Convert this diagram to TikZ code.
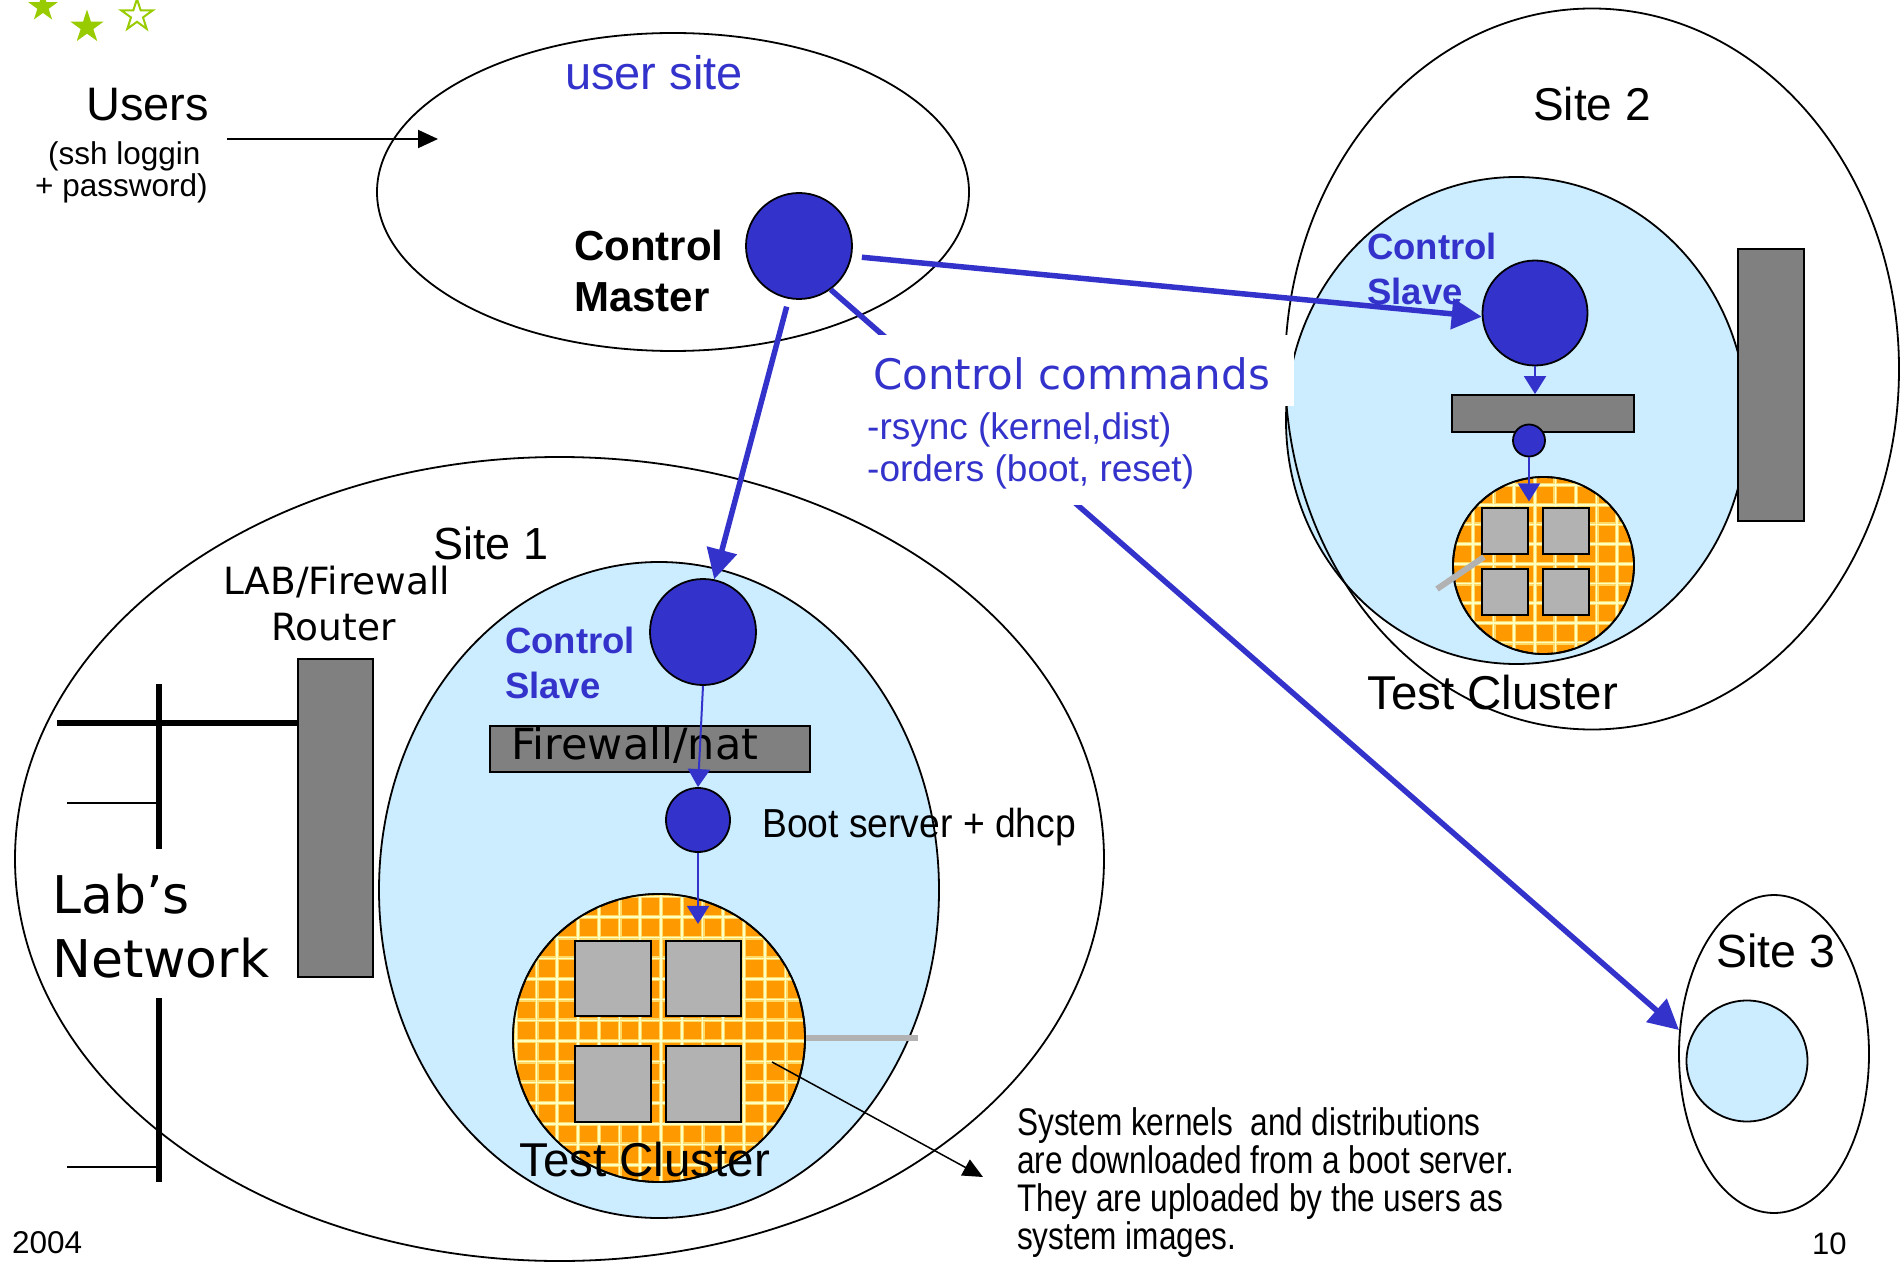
\documentclass[tikz,border=0pt]{standalone}
\usepackage{fontspec}
\setmainfont{Liberation Sans}
\newfontfamily\dvfont{DejaVu Sans}
\newfontfamily\nwfont{Liberation Sans}[FakeStretch=0.82]
\newfontfamily\bsfont{Liberation Sans}[FakeStretch=0.92]
\usetikzlibrary{shapes.geometric,arrows.meta}
\definecolor{cblue}{HTML}{3333CC}
\definecolor{lblue}{HTML}{CCECFF}
\definecolor{dgray}{HTML}{808080}
\definecolor{lgray}{HTML}{B2B2B2}
\definecolor{corange}{HTML}{FF9900}
\definecolor{cgreen}{HTML}{99CC00}
\definecolor{gridout}{HTML}{FFD966}
\definecolor{gridin}{HTML}{FFFFC0}
\newcommand\myfs[1]{\fontsize{#1pt}{#1pt}\selectfont}
\begin{document}
\begin{tikzpicture}[x=1pt,y=-1pt,
  outline/.style={draw=black, line width=1.8pt, inner sep=0pt},
  siteell/.style={outline, ellipse},
  sitefill/.style={outline, ellipse, fill=lblue},
  bluecirc/.style={outline, circle, fill=cblue},
  graybox/.style={outline, rectangle, fill=dgray},
  sqbox/.style={draw=black, line width=2pt, rectangle, fill=lgray, inner sep=0pt, minimum size=#1},
  cluster/.style={outline, ellipse, fill=corange},
  starshape/.style={star, star points=5, star point ratio=2.618, inner sep=0pt},
  txt/.style={inner sep=0pt, anchor=base west},
  bigarrow/.style={draw=cblue, line width=5.5pt, -{Triangle[length=30pt,width=30pt]}},
  smallarrow/.style={draw=cblue, line width=2pt, -{Triangle[length=18pt,width=22pt]}},
  blackarrow/.style={draw=black, line width=2pt, -{Triangle[length=20pt,width=18pt]}},
  grayline/.style={draw=lgray, line width=6pt},
  gridA/.style={draw=gridout, line width=4pt},
  gridB/.style={draw=gridin, line width=1.6pt},
  netthick/.style={line width=6.5pt},
  netthin/.style={line width=2pt},
]
\useasboundingbox (0,0) rectangle (1904,1265);
\clip (0,0) rectangle (1904,1265);

% stars
\node[starshape, minimum size=31pt, fill=cgreen] (star1) at (43,7) {};
\node[starshape, minimum size=35pt, fill=cgreen] (star2) at (87,27) {};
\node[starshape, minimum size=33pt, draw=cgreen, line width=2pt, fill=white] (star3) at (137,15.5) {};

% sites
\node[siteell, minimum width=592pt, minimum height=318pt] (usersite) at (673,192) {};
\node[siteell, minimum width=1089pt, minimum height=804pt] (site1) at (559.5,859) {};
\node[sitefill, minimum width=560pt, minimum height=656pt] (lan1) at (659,890) {};
\node[sitefill, minimum width=461pt, minimum height=487pt] (lan2) at (1516.5,420.5) {};
\node[siteell, minimum width=614pt, minimum height=721pt] (site2) at (1592,369) {};
\node[siteell, minimum width=190pt, minimum height=318pt] (site3) at (1774,1054) {};
\node[sitefill, circle, minimum size=121pt] (lan3) at (1747,1061) {};

% lab network
\node[graybox, minimum width=75pt, minimum height=318pt] (router1) at (335.5,818) {};
\coordinate (n1) at (57,723);
\draw[netthick] (n1) -- (n1 -| router1.west);
\draw[netthick] (159,684) -- (159,849);
\draw[netthick] (159,998) -- (159,1182);
\draw[netthin] (67,803) -- (159,803);
\draw[netthin] (67,1167) -- (159,1167);

\node[graybox, minimum width=66pt, minimum height=272pt] (router2) at (1771,385) {};

% test cluster 1
\node[cluster, minimum width=292pt, minimum height=288pt] (tc1) at (659,1038) {};
\begin{scope}
  \clip (659,1038) ellipse [x radius=146pt, y radius=144pt];
  \foreach \i in {-1,...,13} {\draw[gridA] (536.5+20.75*\i,880) -- (536.5+20.75*\i,1200);}
  \foreach \j in {-1,...,13} {\draw[gridA] (500,917+20.67*\j) -- (820,917+20.67*\j);}
  \foreach \i in {-1,...,13} {\draw[gridB] (536.5+20.75*\i,880) -- (536.5+20.75*\i,1200);}
  \foreach \j in {-1,...,13} {\draw[gridB] (500,917+20.67*\j) -- (820,917+20.67*\j);}
\end{scope}
\draw[line width=1.8pt] (659,1038) ellipse [x radius=146pt, y radius=144pt];
\node[sqbox=75.5pt] (sq11) at (613,978.5) {};
\node[sqbox=75.5pt] (sq12) at (703.5,978.5) {};
\node[sqbox=75.5pt] (sq13) at (613,1084) {};
\node[sqbox=75.5pt] (sq14) at (703.5,1084) {};
\draw[grayline] (tc1.east) -- ++(112,0);

% test cluster 2
\node[cluster, minimum width=181pt, minimum height=177pt] (tc2) at (1543.5,565.5) {};
\begin{scope}
  \clip (1543.5,565.5) ellipse [x radius=90.5pt, y radius=88.5pt];
  \foreach \i in {-1,...,8} {\draw[gridA] (1473+20.6*\i,460) -- (1473+20.6*\i,670);}
  \foreach \j in {-1,...,9} {\draw[gridA] (1440,485+19.7*\j) -- (1650,485+19.7*\j);}
  \foreach \i in {-1,...,8} {\draw[gridB] (1473+20.6*\i,460) -- (1473+20.6*\i,670);}
  \foreach \j in {-1,...,9} {\draw[gridB] (1440,485+19.7*\j) -- (1650,485+19.7*\j);}
\end{scope}
\draw[line width=1.8pt] (1543.5,565.5) ellipse [x radius=90.5pt, y radius=88.5pt];
\node[sqbox=46pt] (sq21) at (1505,531) {};
\node[sqbox=46pt] (sq22) at (1566,531) {};
\node[sqbox=46pt] (sq23) at (1505,591.5) {};
\node[sqbox=46pt] (sq24) at (1566,591.5) {};
\draw[grayline] (1437,589) -- (1484,557);

% bars
\node[graybox, minimum width=320pt, minimum height=46pt] (fw1) at (650,749) {};
\node[graybox, minimum width=182pt, minimum height=37pt] (fw2) at (1543,413.5) {};

% circles
\node[bluecirc, minimum size=106pt] (master) at (799,246) {};
\node[bluecirc, minimum size=106pt] (slave1) at (703,632) {};
\node[bluecirc, minimum size=64pt] (boot1) at (698,820) {};
\node[bluecirc, minimum size=105pt] (slave2) at (1535,313) {};
\node[bluecirc, minimum size=32pt] (boot2) at (1529,440.5) {};

% texts
\node[txt, font=\myfs{47}] (users) at (86,121) {Users};
\node[txt, font=\myfs{31.5}] (ssh) at (48,165) {(ssh loggin};
\node[txt, font=\myfs{31.5}] (pwd) at (35,197) {+ password)};
\node[txt, font=\myfs{47}, text=cblue] (usl) at (565,90) {user site};
\node[txt, font=\myfs{42}\bfseries] (cm1) at (574,261) {Control};
\node[txt, font=\myfs{42}\bfseries] (cm2) at (574,312) {Master};
\node[txt, font=\myfs{46}] (s2l) at (1533,121) {Site 2};
\node[txt, font=\myfs{36.5}\bfseries, text=cblue] (cs2a) at (1367,260) {Control};
\node[txt, font=\myfs{36.5}\bfseries, text=cblue] (cs2b) at (1367,305) {Slave};
\node[txt, font=\myfs{47.5}] (tc2l) at (1367,709) {Test Cluster};
\node[txt, font=\myfs{45}] (s1l) at (433,559) {Site 1};
\node[txt, font=\dvfont\myfs{37.5}] (labl) at (223,594) {LAB/Firewall};
\node[txt, font=\dvfont\myfs{37.5}] (rtl) at (271,640) {Router};
\node[txt, font=\myfs{36.5}\bfseries, text=cblue] (cs1a) at (505,653) {Control};
\node[txt, font=\myfs{36.5}\bfseries, text=cblue] (cs1b) at (505,698) {Slave};
\node[txt, font=\dvfont\myfs{43}] (fwl) at (511,759) {Firewall/nat};
\node[txt, font=\bsfont\myfs{40.5}] (bsl) at (762,837) {Boot server + dhcp};
\node[txt, font=\myfs{47.5}] (tc1l) at (519,1176) {Test Cluster};
\node[txt, font=\dvfont\myfs{52}] (labs) at (52,913) {Lab’s};
\node[txt, font=\dvfont\myfs{52}] (netw) at (52,977) {Network};
\node[txt, font=\myfs{46.5}] (s3l) at (1716,967) {Site 3};
\node[txt, font=\nwfont\myfs{38.5}] (k1) at (1017,1135) {System kernels\ \ and distributions};
\node[txt, font=\nwfont\myfs{38.5}] (k2) at (1017,1173) {are downloaded from a boot server.};
\node[txt, font=\nwfont\myfs{38.5}] (k3) at (1017,1211) {They are uploaded by the users as};
\node[txt, font=\nwfont\myfs{38.5}] (k4) at (1017,1249) {system images.};
\node[txt, font=\myfs{31.5}] (yr) at (12,1253) {2004};
\node[txt, font=\myfs{31}] (pg) at (1812,1254) {10};

% small arrows
\draw[smallarrow] (slave1.south) -- (boot1.north);
\draw[smallarrow] (boot1.south) -- ++(0,71);
\draw[smallarrow] (slave2.south) -- (slave2.south |- fw2.north);
\draw[smallarrow] (boot2.south) -- ++(0,44);

% control arrows
\coordinate (s3tip) at (1679,1030);
\draw[bigarrow, shorten <=8pt] (master.-101) -- (slave1.78);
\draw[bigarrow, shorten <=10pt] (master.-11) -- (slave2.184);
\draw[bigarrow] (master.-54) -- (s3tip);

% control commands label
\fill[white] (866,335) rectangle (1294,406);
\fill[white] (866,406) rectangle (1195,505);
\node[txt, font=\dvfont\myfs{42}, text=cblue] (cc) at (873,389) {Control commands};
\node[txt, font=\myfs{37}, text=cblue] (rs) at (867,439) {-rsync (kernel,dist)};
\node[txt, font=\myfs{37}, text=cblue] (od) at (867,481) {-orders (boot, reset)};

% black arrows
\coordinate (ua) at (227,139);
\coordinate (ub) at (438,139);
\draw[blackarrow] (ua) -- (ub);
\coordinate (ka) at (772,1062);
\coordinate (kb) at (983,1177);
\draw[blackarrow, line width=1.5pt] (ka) -- (kb);
\end{tikzpicture}
\end{document}
